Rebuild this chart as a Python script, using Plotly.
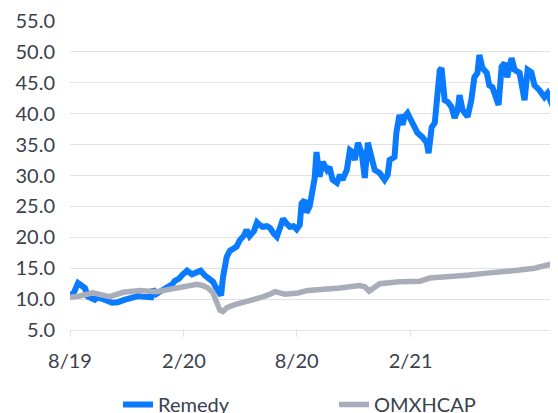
import plotly.graph_objects as go

remedy_dates = [
    "2019-08-01", "2019-08-07", "2019-08-14", "2019-08-20", "2019-08-25", "2019-08-30",
    "2019-09-05", "2019-09-10", "2019-09-15", "2019-09-22", "2019-09-26", "2019-10-03",
    "2019-10-08", "2019-10-17", "2019-10-29", "2019-11-09", "2019-11-19", "2019-11-25",
    "2019-12-05", "2019-12-10", "2019-12-13", "2019-12-18", "2019-12-24", "2020-01-01",
    "2020-01-06", "2020-01-13", "2020-01-17", "2020-01-24", "2020-01-29", "2020-02-06",
    "2020-02-14", "2020-02-22", "2020-02-28", "2020-03-06", "2020-03-12", "2020-03-19",
    "2020-03-23", "2020-03-28", "2020-04-01", "2020-04-04", "2020-04-07", "2020-04-10",
    "2020-04-15", "2020-04-20", "2020-04-26", "2020-05-01", "2020-05-08", "2020-05-12",
    "2020-05-17", "2020-05-24", "2020-05-29", "2020-06-02", "2020-06-07", "2020-06-14",
    "2020-06-19", "2020-06-25", "2020-06-30", "2020-07-05", "2020-07-10", "2020-07-16",
    "2020-07-21", "2020-07-27", "2020-08-01", "2020-08-06", "2020-08-09", "2020-08-14",
    "2020-08-17", "2020-08-22", "2020-08-27", "2020-08-30", "2020-09-02", "2020-09-07",
    "2020-09-12", "2020-09-19", "2020-09-23", "2020-09-28", "2020-10-05", "2020-10-10",
    "2020-10-14", "2020-10-21", "2020-10-26", "2020-10-30", "2020-11-03", "2020-11-08",
    "2020-11-14", "2020-11-19", "2020-11-24", "2020-11-30", "2020-12-05", "2020-12-13",
    "2020-12-21", "2020-12-26", "2020-12-29", "2021-01-06", "2021-01-09", "2021-01-14",
    "2021-01-19", "2021-01-22", "2021-01-27", "2021-02-04", "2021-02-12", "2021-02-20",
    "2021-02-27", "2021-03-02", "2021-03-07", "2021-03-12", "2021-03-17", "2021-03-20",
    "2021-03-23", "2021-03-28", "2021-04-02", "2021-04-08", "2021-04-13", "2021-04-18",
    "2021-04-21", "2021-04-26", "2021-05-04", "2021-05-10", "2021-05-15", "2021-05-20",
    "2021-05-23", "2021-05-28", "2021-06-04", "2021-06-08", "2021-06-13", "2021-06-20",
    "2021-06-23", "2021-06-28", "2021-07-03", "2021-07-07", "2021-07-14", "2021-07-19",
    "2021-07-27", "2021-08-04", "2021-08-09", "2021-08-15", "2021-08-20", "2021-08-28",
    "2021-09-05", "2021-09-10", "2021-09-16", "2021-09-21", "2021-09-25",
]
remedy_values = [
    10.5, 11.0, 12.6, 12.2, 11.8, 10.4,
    10.0, 9.9, 10.3, 10.1, 10.0, 9.6,
    9.4, 9.5, 9.9, 10.2, 10.5, 10.4,
    10.4, 10.3, 11.6, 10.8, 11.2, 11.6,
    12.0, 12.4, 12.9, 13.3, 13.9, 14.6,
    14.0, 14.5, 14.6, 13.8, 13.2, 12.8,
    12.0, 11.0, 10.6, 13.5, 15.5, 16.8,
    17.8, 18.1, 18.5, 19.5, 20.3, 21.2,
    20.2, 21.0, 22.4, 22.0, 21.7, 21.8,
    21.5, 20.6, 20.1, 21.5, 23.0, 22.2,
    21.7, 21.8, 21.3, 22.0, 25.5, 26.0,
    24.0, 25.0, 28.1, 29.5, 33.8, 29.8,
    32.2, 30.9, 31.4, 29.3, 28.8, 30.1,
    29.3, 30.9, 34.1, 33.8, 32.5, 35.3,
    33.6, 29.6, 35.3, 33.0, 30.9, 30.4,
    29.3, 30.1, 32.5, 33.0, 36.9, 39.8,
    38.2, 39.5, 40.1, 38.5, 36.9, 36.2,
    35.3, 33.6, 37.8, 38.5, 43.8, 47.0,
    47.4, 42.2, 41.9, 41.1, 39.3, 40.6,
    43.0, 40.6, 39.5, 42.2, 45.9, 46.6,
    49.5, 47.4, 46.6, 44.6, 44.3, 42.2,
    41.4, 47.6, 48.2, 45.9, 49.0, 47.1,
    46.6, 42.2, 47.1, 46.7, 44.6, 43.8,
    42.7, 43.3, 41.4, 40.6, 42.5,
]

omx_dates = [
    "2019-08-01", "2019-08-17", "2019-09-07", "2019-10-04", "2019-10-26", "2019-11-22",
    "2019-12-19", "2020-01-14", "2020-02-06", "2020-02-22", "2020-03-02", "2020-03-11",
    "2020-03-19", "2020-03-25", "2020-03-30", "2020-04-04", "2020-04-10", "2020-04-23",
    "2020-05-09", "2020-05-21", "2020-06-06", "2020-06-19", "2020-06-27", "2020-07-13",
    "2020-08-03", "2020-08-19", "2020-09-07", "2020-10-10", "2020-11-10", "2020-11-19",
    "2020-11-26", "2020-12-05", "2020-12-13", "2021-01-14", "2021-02-16", "2021-03-04",
    "2021-04-10", "2021-05-07", "2021-06-04", "2021-07-03", "2021-07-27", "2021-08-20",
    "2021-09-05", "2021-09-18", "2021-09-25",
]
omx_values = [
    10.3, 10.5, 11.0, 10.4, 11.1, 11.4,
    11.2, 11.7, 12.0, 12.4, 12.2, 11.8,
    11.0, 9.6, 8.2, 8.0, 8.6, 9.1,
    9.5, 10.0, 10.3, 10.8, 11.2, 10.8,
    11.0, 11.4, 11.5, 11.8, 12.2, 12.0,
    11.3, 11.9, 12.5, 12.8, 12.9, 13.4,
    13.6, 13.9, 14.2, 14.4, 14.7, 15.0,
    15.4, 15.9, 15.9,
]

x_tick_dates = ["2019-08-01", "2020-02-01", "2020-08-01", "2021-02-01"]
x_tick_labels = ["8/19", "2/20", "8/20", "2/21"]
y_tick_values = [5, 10, 15, 20, 25, 30, 35, 40, 45, 50, 55]
y_tick_labels = ["5.0", "10.0", "15.0", "20.0", "25.0", "30.0", "35.0", "40.0", "45.0", "50.0", "55.0"]

BLUE = "#0a7bff"
GRAY = "#a9adba"
TEXT = "#3a414d"
GRID = "#e1e2e8"
FONT = "Lato, Roboto, sans-serif"

fig = go.Figure()
fig.add_trace(go.Scatter(x=remedy_dates, y=remedy_values, mode="lines", name="Remedy",
                         line=dict(color=BLUE, width=6, shape="linear")))
fig.add_trace(go.Scatter(x=omx_dates, y=omx_values, mode="lines", name="OMXHCAP",
                         line=dict(color=GRAY, width=5.5)))

fig.update_layout(
    width=550, height=405,
    margin=dict(l=62, r=0, t=13, b=83, autoexpand=False),
    paper_bgcolor="white", plot_bgcolor="white",
    font=dict(family=FONT, size=20, color=TEXT),
    showlegend=True,
    legend=dict(orientation="h", x=0.541, xanchor="center", y=-0.178, yanchor="top",
                font=dict(size=20, color=TEXT), entrywidth=171, entrywidthmode="pixels",
                itemwidth=30),
    xaxis=dict(
        type="date", automargin=False,
        range=["2019-08-01", "2021-09-27"],
        tickvals=x_tick_dates, ticktext=x_tick_labels,
        showgrid=False, zeroline=False,
        showline=True, linecolor=GRID, linewidth=1,
        ticks="outside", ticklen=6, tickcolor=GRID,
        ticklabelstandoff=7,
    ),
    yaxis=dict(
        automargin=False,
        range=[5, 55],
        tickvals=y_tick_values, ticktext=y_tick_labels,
        showgrid=True, gridcolor=GRID, gridwidth=1,
        zeroline=False, showline=False,
        ticks="", ticklabelstandoff=14,
    ),
)

fig.write_html("out.html")
